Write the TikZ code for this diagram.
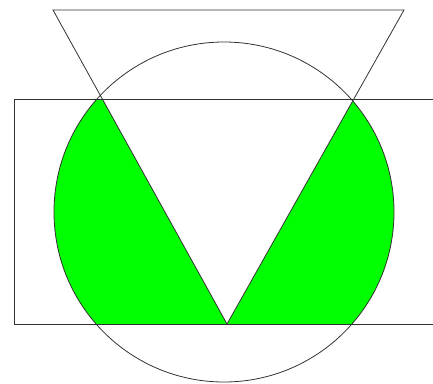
\documentclass[tikz,border=0pt]{standalone}
\definecolor{fillgreen}{RGB}{0,255,0}
\definecolor{linegray}{RGB}{50,50,50}
\tikzset{outline/.style={draw=linegray,line width=0.8pt,line join=miter}}
\begin{document}
\begin{tikzpicture}[x=1pt,y=-1pt]
\useasboundingbox (0,0) rectangle (433,383);
\coordinate (tl) at (53,10);
\coordinate (tr) at (404,10);
\coordinate (apex) at (227,324);
\coordinate (c) at (224,212);
\begin{scope}
  \clip (14,99) rectangle (440,324);
  \fill[fillgreen] (c) circle[radius=170];
  \fill[white] (tl) -- (tr) -- (apex) -- cycle;
\end{scope}
\draw[outline] (c) circle[radius=170];
\draw[outline] (tl) -- (tr) -- (apex) -- cycle;
\draw[outline] (440,99) -- (14,99) -- (14,324) -- (440,324);
\end{tikzpicture}
\end{document}
